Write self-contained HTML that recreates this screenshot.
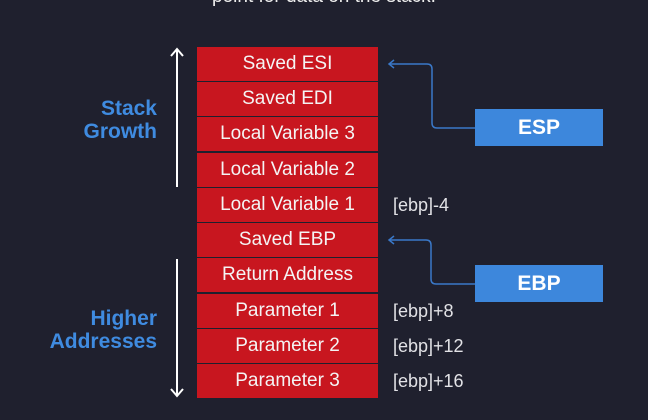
<!DOCTYPE html>
<html><head><style>
body{margin:0;width:648px;height:420px;background:#1f202e;overflow:hidden;position:relative;font-family:"Liberation Sans",sans-serif}
.r{position:absolute;left:197px;width:181px;height:34px;background:#c8161f;color:#f4f4f4;font-size:19px;line-height:34px;text-align:center}
.l{position:absolute;left:393px;color:#e2e2e6;font-size:18px;line-height:20px}
.b{position:absolute;color:#3f8be0;font-weight:bold;font-size:21px;text-align:right;width:157px;left:0;line-height:23px}
.p{position:absolute;left:475px;width:128px;height:37px;background:#3d87dc;color:#fff;font-weight:bold;font-size:21px;line-height:37px;text-align:center}
</style></head><body>
<div style="position:absolute;top:-14px;width:648px;text-align:center;color:#eee;font-size:19px">point for data on the stack.</div>
<div class="r" style="top:47px">Saved ESI</div>
<div class="r" style="top:82px">Saved EDI</div>
<div class="r" style="top:117px">Local Variable 3</div>
<div class="r" style="top:153px">Local Variable 2</div>
<div class="r" style="top:188px">Local Variable 1</div>
<div class="r" style="top:223px">Saved EBP</div>
<div class="r" style="top:258px">Return Address</div>
<div class="r" style="top:294px">Parameter 1</div>
<div class="r" style="top:329px">Parameter 2</div>
<div class="r" style="top:364px">Parameter 3</div>
<div class="l" style="top:195px">[ebp]-4</div>
<div class="l" style="top:301px">[ebp]+8</div>
<div class="l" style="top:336px">[ebp]+12</div>
<div class="l" style="top:371px">[ebp]+16</div>
<div class="b" style="top:97px">Stack<br>Growth</div>
<div class="b" style="top:307px">Higher<br>Addresses</div>
<div class="p" style="top:109px">ESP</div>
<div class="p" style="top:265px">EBP</div>
<svg width="648" height="420" style="position:absolute;left:0;top:0">
<g stroke="#fff" stroke-width="2" fill="none">
<line x1="177" y1="49" x2="177" y2="187"/><polyline points="171,56 177,49 183,56"/>
<line x1="177" y1="259" x2="177" y2="396"/><polyline points="171,389 177,396 183,389"/>
</g>
<g stroke="#3a78c8" stroke-width="1.5" fill="none">
<path d="M475 128 H437 Q432 128 432 123 V69 Q432 64 427 64 H389"/><polyline points="394,60 389,64 394,68"/>
<path d="M475 284 H436 Q431 284 431 279 V245 Q431 240 426 240 H389"/><polyline points="394,236 389,240 394,244"/>
</g>
</svg>
</body></html>
